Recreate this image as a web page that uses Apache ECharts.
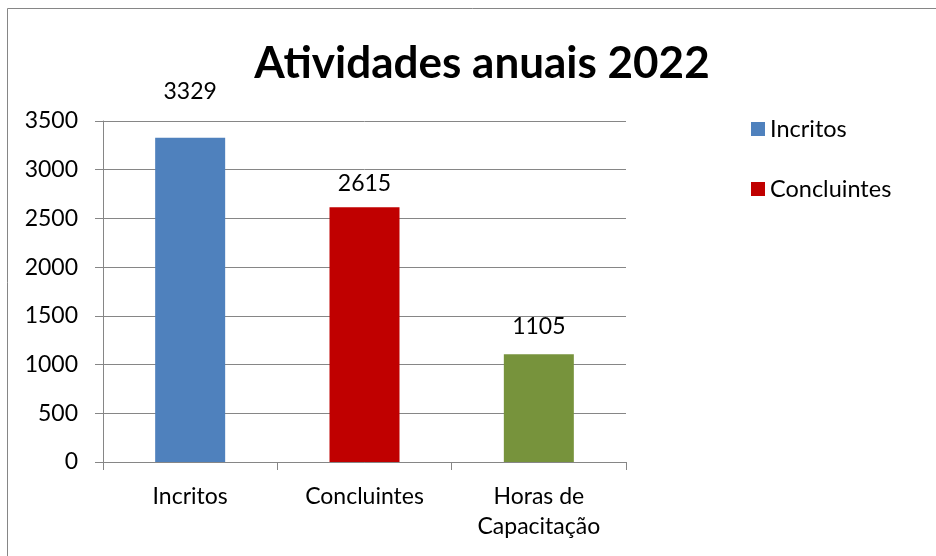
<!DOCTYPE html>
<html>
<head>
<meta charset="utf-8">
<script src="https://cdn.jsdelivr.net/npm/echarts@6/dist/echarts.min.js"></script>
<style>html,body{margin:0;padding:0;background:#fff}#c{width:936px;height:556px}</style>
</head>
<body>
<div id="c"></div>
<script>
const title = 'Atividades anuais 2022';
const categories = ['Incritos', 'Concluintes', 'Horas de\nCapacitação'];
const seriesNames = ['Incritos', 'Concluintes', 'Horas de Capacitação'];
const values = [3329, 2615, 1105];
const colors = ['#4F81BD', '#C00000', '#77933C'];
const labelDistances = [35, 12, 16];
const legendNames = ['Incritos', 'Concluintes'];
const yTicks = { min: 0, max: 3500, interval: 500 };

const font = 'Lato, "Open Sans", sans-serif';
const fs = 23;
const chart = echarts.init(document.getElementById('c'), null, { renderer: 'canvas' });

const series = seriesNames.map((name, i) => ({
  name: name,
  type: 'bar',
  stack: 'all',
  barWidth: 70,
  itemStyle: { color: colors[i] },
  label: {
    show: true, position: 'top', distance: labelDistances[i],
    color: '#000', fontSize: fs, fontFamily: font
  },
  data: categories.map((c, j) => (j === i ? values[i] : '-'))
}));

chart.setOption({
  animation: false,
  backgroundColor: '#fff',
  graphic: [{
    type: 'rect', shape: { x: 7.5, y: 8.5, width: 940, height: 560 },
    style: { fill: 'none', stroke: '#868686', lineWidth: 1 }, silent: true, z: -10
  }],
  title: {
    text: title, left: 477, top: 37, textAlign: 'center',
    textStyle: { fontSize: 44, fontWeight: 'bold', color: '#000', fontFamily: font }
  },
  legend: {
    data: legendNames, orient: 'vertical', left: 746, top: 112,
    itemWidth: 14, itemHeight: 14, itemGap: 36, icon: 'rect',
    textStyle: { fontSize: 23.5, color: '#000', fontFamily: font }
  },
  grid: { left: 103, right: 310, top: 121, bottom: 94, containLabel: false },
  xAxis: {
    type: 'category', data: categories,
    axisLine: { lineStyle: { color: '#868686', width: 1 } },
    axisTick: { show: true, length: 8, lineStyle: { color: '#868686' } },
    axisLabel: { color: '#000', fontSize: fs, fontFamily: font, margin: 20, lineHeight: 30 }
  },
  yAxis: {
    type: 'value', min: yTicks.min, max: yTicks.max, interval: yTicks.interval,
    axisLine: { show: true, lineStyle: { color: '#868686', width: 1 } },
    axisTick: { show: true, length: 8, lineStyle: { color: '#868686' } },
    axisLabel: { color: '#000', fontSize: fs, fontFamily: font, margin: 25, formatter: v => String(v) },
    splitLine: { lineStyle: { color: '#868686', width: 1 } }
  },
  series: series
});
</script>
</body>
</html>
